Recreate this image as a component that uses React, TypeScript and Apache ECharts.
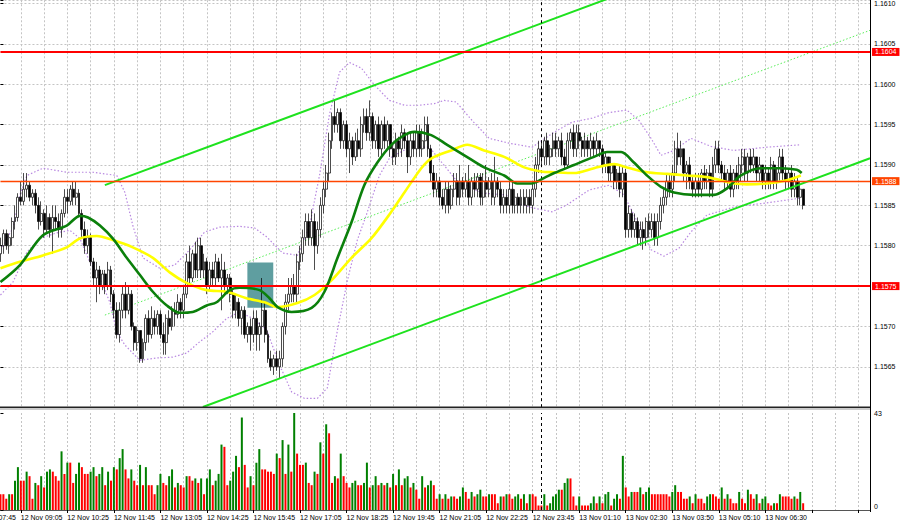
import React, { useEffect, useRef } from "react";
import * as echarts from "echarts";

// ---------- data ----------
const SLOTS = 300; // bar slots across the plot (bars 0..276 used, the rest empty)

// time labels every 16 bars; the first one belongs to bar -9 (left of the plot)
const timeLabels = [
  "12 Nov 07:45", "12 Nov 09:05", "12 Nov 10:25", "12 Nov 11:45", "12 Nov 13:05",
  "12 Nov 14:25", "12 Nov 15:45", "12 Nov 17:05", "12 Nov 18:25", "12 Nov 19:45",
  "12 Nov 21:05", "12 Nov 22:25", "12 Nov 23:45", "13 Nov 01:10", "13 Nov 02:30",
  "13 Nov 03:50", "13 Nov 05:10", "13 Nov 06:30",
];
const firstLabelBar = -9;

// [open, close, low, high]
const candles: number[][] = [
  [1.1579,1.158,1.1578,1.1581],[1.158,1.15815,1.1579,1.1582],[1.15815,1.158,1.15795,1.1582],[1.158,1.1581,1.1579,1.15815],[1.1581,1.1583,1.158,1.15835],
  [1.1583,1.15835,1.1582,1.1585],[1.15835,1.1586,1.1583,1.15865],[1.1586,1.15855,1.1585,1.1588],[1.15855,1.1587,1.1585,1.1589],[1.1587,1.15875,1.1586,1.1589],
  [1.15875,1.1586,1.15855,1.1588],[1.1586,1.15865,1.1585,1.1587],[1.15865,1.1585,1.1584,1.1587],[1.1585,1.1583,1.1582,1.1586],[1.1583,1.1584,1.15825,1.15855],
  [1.1584,1.1582,1.1581,1.15845],[1.1582,1.15835,1.15815,1.1585],[1.15835,1.1582,1.1581,1.1584],[1.1582,1.15835,1.1579,1.1585],[1.15835,1.1583,1.1582,1.1585],
  [1.1583,1.1582,1.1581,1.1584],[1.1582,1.1584,1.1581,1.15845],[1.1584,1.1586,1.15835,1.1587],[1.1586,1.15855,1.1584,1.1587],[1.15855,1.1587,1.1585,1.15875],
  [1.1587,1.1586,1.1585,1.1588],[1.1586,1.15865,1.1585,1.1588],[1.15865,1.1584,1.15835,1.1587],[1.1584,1.1582,1.1581,1.15845],[1.1582,1.158,1.1579,1.1583],
  [1.158,1.1581,1.1579,1.1582],[1.1581,1.1578,1.15775,1.15815],[1.1578,1.1576,1.1575,1.15785],[1.1576,1.1577,1.1573,1.1578],[1.1577,1.1575,1.1574,1.15775],
  [1.1575,1.15765,1.15745,1.1577],[1.15765,1.1575,1.1574,1.1577],[1.1575,1.1577,1.15745,1.1578],[1.1577,1.1574,1.1573,1.15775],[1.1574,1.1572,1.1571,1.15745],
  [1.1572,1.1569,1.15685,1.1573],[1.1569,1.1572,1.1568,1.1573],[1.1572,1.1574,1.1571,1.1575],[1.1574,1.1572,1.1571,1.15755],[1.1572,1.1574,1.15715,1.1575],
  [1.1574,1.157,1.15695,1.15745],[1.157,1.1568,1.1567,1.15705],[1.1568,1.15695,1.1567,1.157],[1.15695,1.1566,1.15655,1.15695],[1.1566,1.1568,1.15655,1.15685],
  [1.1568,1.1571,1.1567,1.15715],[1.1571,1.1569,1.1568,1.1572],[1.1569,1.1571,1.15685,1.15725],[1.1571,1.157,1.1569,1.1572],[1.157,1.15715,1.1569,1.1572],
  [1.15715,1.1569,1.15685,1.1572],[1.1569,1.1568,1.15665,1.15705],[1.1568,1.1571,1.15665,1.15715],[1.1571,1.157,1.1569,1.1572],[1.157,1.1572,1.15695,1.15725],
  [1.1572,1.15715,1.157,1.1573],[1.15715,1.1573,1.1571,1.1574],[1.1573,1.1572,1.1571,1.15735],[1.1572,1.1574,1.1571,1.1575],[1.1574,1.1578,1.15735,1.1579],
  [1.1578,1.1576,1.1575,1.158],[1.1576,1.1579,1.15755,1.15795],[1.1579,1.1577,1.1576,1.15805],[1.1577,1.158,1.1576,1.1581],[1.158,1.1577,1.1576,1.1581],
  [1.1577,1.1578,1.1576,1.1579],[1.1578,1.1575,1.1574,1.15785],[1.1575,1.1577,1.15745,1.1578],[1.1577,1.1576,1.1575,1.1578],[1.1576,1.1578,1.1575,1.1579],
  [1.1578,1.1576,1.15755,1.15785],[1.1576,1.1577,1.1572,1.1579],[1.1577,1.1575,1.1574,1.1578],[1.1575,1.1576,1.1574,1.15765],[1.1576,1.1574,1.1573,1.15765],
  [1.1574,1.1572,1.1571,1.15745],[1.1572,1.1573,1.1571,1.1574],[1.1573,1.1571,1.157,1.15735],[1.1571,1.1572,1.1569,1.15725],[1.1572,1.1569,1.15685,1.15725],
  [1.1569,1.157,1.1568,1.15705],[1.157,1.1569,1.1567,1.1571],[1.1569,1.1571,1.1568,1.1572],[1.1571,1.1569,1.1567,1.1572],[1.1569,1.157,1.1567,1.15705],
  [1.157,1.1572,1.1569,1.1576],[1.1572,1.1569,1.1568,1.1573],[1.1569,1.1566,1.15655,1.15695],[1.1566,1.1565,1.15645,1.1567],[1.1565,1.1566,1.1564,1.15665],
  [1.1566,1.1565,1.15645,1.1567],[1.1565,1.1566,1.15635,1.1567],[1.1566,1.157,1.1565,1.15705],[1.157,1.1573,1.1569,1.1574],[1.1573,1.1574,1.1572,1.1576],
  [1.1574,1.1575,1.1573,1.1576],[1.1575,1.1574,1.1573,1.15765],[1.1574,1.1578,1.1573,1.1579],[1.1578,1.1579,1.1577,1.158],[1.1579,1.1581,1.1578,1.1582],
  [1.1581,1.1583,1.158,1.1584],[1.1583,1.1581,1.158,1.1584],[1.1581,1.1583,1.158,1.15845],[1.1583,1.158,1.1577,1.1584],[1.158,1.1582,1.1579,1.1583],
  [1.1582,1.1585,1.1581,1.1586],[1.1585,1.1587,1.1584,1.1588],[1.1587,1.1589,1.1586,1.159],[1.1589,1.1593,1.1588,1.1594],[1.1593,1.1596,1.1592,1.15965],
  [1.1596,1.1595,1.1594,1.1598],[1.1595,1.15965,1.1594,1.1597],[1.15965,1.1593,1.1592,1.1597],[1.1593,1.1595,1.1592,1.15955],[1.1595,1.1592,1.1591,1.15955],
  [1.1592,1.1593,1.1589,1.1594],[1.1593,1.1591,1.159,1.15935],[1.1591,1.1593,1.15905,1.1594],[1.1593,1.1592,1.1591,1.15945],[1.1592,1.1595,1.1591,1.1596],
  [1.1595,1.1596,1.1594,1.1597],[1.1596,1.1594,1.1593,1.1597],[1.1594,1.1596,1.1593,1.1598],[1.1596,1.1593,1.1592,1.15965],[1.1593,1.1595,1.1592,1.15955],
  [1.1595,1.1592,1.1591,1.1596],[1.1592,1.1595,1.1591,1.15955],[1.1595,1.1593,1.1592,1.1596],[1.1593,1.1595,1.1592,1.15955],[1.1595,1.1592,1.1591,1.1595],
  [1.1592,1.1591,1.159,1.15925],[1.1591,1.1593,1.159,1.1594],[1.1593,1.1592,1.1591,1.15935],[1.1592,1.1594,1.1591,1.1595],[1.1594,1.1593,1.1592,1.15945],
  [1.1593,1.1591,1.1589,1.1594],[1.1591,1.1593,1.159,1.1594],[1.1593,1.1592,1.1591,1.1594],[1.1592,1.1594,1.1591,1.1595],[1.1594,1.1592,1.1591,1.1595],
  [1.1592,1.1593,1.1591,1.15945],[1.1593,1.1595,1.1592,1.1596],[1.1595,1.1592,1.1591,1.1596],[1.1592,1.1589,1.1588,1.15925],[1.1589,1.1587,1.1586,1.159],
  [1.1587,1.1588,1.1586,1.1589],[1.1588,1.1586,1.1585,1.15885],[1.1586,1.1585,1.15845,1.1587],[1.1585,1.1587,1.1584,1.1588],[1.1587,1.1585,1.1584,1.1588],
  [1.1585,1.1587,1.15845,1.15875],[1.1587,1.1588,1.1586,1.1589],[1.1588,1.1586,1.1585,1.1589],[1.1586,1.1588,1.1585,1.159],[1.1588,1.1587,1.1586,1.15885],
  [1.1587,1.1588,1.1586,1.1589],[1.1588,1.1586,1.1585,1.159],[1.1586,1.1588,1.1585,1.15885],[1.1588,1.1587,1.1586,1.1589],[1.1587,1.15885,1.1586,1.1589],
  [1.15885,1.1586,1.1585,1.1589],[1.1586,1.1588,1.1585,1.1589],[1.1588,1.1587,1.1586,1.159],[1.1587,1.1588,1.1586,1.15885],[1.1588,1.1586,1.1585,1.1589],
  [1.1586,1.1588,1.1585,1.1591],[1.1588,1.1587,1.1586,1.15885],[1.1587,1.1585,1.1584,1.1588],[1.1585,1.1586,1.1584,1.1587],[1.1586,1.1585,1.1584,1.1587],
  [1.1585,1.1587,1.1584,1.1588],[1.1587,1.1585,1.1584,1.1588],[1.1585,1.1586,1.1584,1.1587],[1.1586,1.1585,1.1584,1.15865],[1.1585,1.1586,1.1584,1.1587],
  [1.1586,1.1585,1.1584,1.1587],[1.1585,1.1586,1.1584,1.1587],[1.1586,1.1585,1.1584,1.1587],[1.1585,1.1587,1.1584,1.1588],[1.1587,1.159,1.1586,1.1591],
  [1.159,1.1592,1.1589,1.1593],[1.1592,1.1591,1.159,1.1593],[1.1591,1.1593,1.159,1.15935],[1.1593,1.1591,1.159,1.1594],[1.1591,1.1592,1.159,1.15925],
  [1.1592,1.1593,1.1591,1.1594],[1.1593,1.1592,1.1591,1.1594],[1.1592,1.1593,1.1591,1.15935],[1.1593,1.1591,1.159,1.1594],[1.1591,1.159,1.15895,1.1592],
  [1.159,1.1593,1.15895,1.1594],[1.1593,1.1594,1.1592,1.15945],[1.1594,1.1592,1.1591,1.1595],[1.1592,1.1594,1.1591,1.1595],[1.1594,1.1593,1.1592,1.1595],
  [1.1593,1.1592,1.1591,1.15935],[1.1592,1.1593,1.1591,1.1594],[1.1593,1.1592,1.1591,1.15935],[1.1592,1.1593,1.1591,1.1594],[1.1593,1.1592,1.1591,1.15935],
  [1.1592,1.1593,1.1591,1.1594],[1.1593,1.1592,1.1591,1.1593],[1.1592,1.159,1.1589,1.15925],[1.159,1.1591,1.1589,1.15915],[1.1591,1.1589,1.1588,1.1591],
  [1.1589,1.159,1.1588,1.1591],[1.159,1.1588,1.1587,1.159],[1.1588,1.1589,1.1587,1.15895],[1.1589,1.1587,1.1586,1.159],[1.1587,1.1589,1.1586,1.159],
  [1.1589,1.1582,1.1581,1.15895],[1.1582,1.1584,1.1581,1.1585],[1.1584,1.1582,1.1581,1.15845],[1.1582,1.1583,1.1581,1.1584],[1.1583,1.1581,1.158,1.15835],
  [1.1581,1.1582,1.158,1.1583],[1.1582,1.1581,1.15795,1.1583],[1.1581,1.1583,1.158,1.15835],[1.1583,1.1582,1.1581,1.1584],[1.1582,1.1583,1.1581,1.1584],
  [1.1583,1.1581,1.158,1.1584],[1.1581,1.1583,1.158,1.1584],[1.1583,1.1585,1.1582,1.1586],[1.1585,1.1586,1.1584,1.1587],[1.1586,1.1588,1.1585,1.1589],
  [1.1588,1.1587,1.1586,1.1589],[1.1587,1.1589,1.1586,1.159],[1.1589,1.1592,1.1588,1.1593],[1.1592,1.1591,1.159,1.1594],[1.1591,1.1592,1.159,1.1593],
  [1.1592,1.1589,1.1588,1.1592],[1.1589,1.159,1.1587,1.15905],[1.159,1.1588,1.1587,1.1591],[1.1588,1.1587,1.1586,1.15885],[1.1587,1.1588,1.1586,1.1589],
  [1.1588,1.1587,1.1586,1.1589],[1.1587,1.1589,1.1586,1.15895],[1.1589,1.1588,1.1587,1.159],[1.1588,1.1589,1.1587,1.15895],[1.1589,1.1587,1.1586,1.159],
  [1.1587,1.159,1.1586,1.1591],[1.159,1.1592,1.1589,1.1593],[1.1592,1.159,1.1589,1.1593],[1.159,1.1589,1.1588,1.15905],[1.1589,1.1588,1.1587,1.159],
  [1.1588,1.1589,1.1587,1.15895],[1.1589,1.1587,1.1586,1.159],[1.1587,1.1589,1.1586,1.15895],[1.1589,1.1588,1.1587,1.159],[1.1588,1.159,1.1587,1.1591],
  [1.159,1.1591,1.1589,1.1592],[1.1591,1.1589,1.1588,1.1592],[1.1589,1.1591,1.1588,1.15915],[1.1591,1.159,1.1589,1.1592],[1.159,1.1591,1.1589,1.1592],
  [1.1591,1.1589,1.1588,1.1591],[1.1589,1.159,1.1588,1.1591],[1.159,1.1588,1.1587,1.159],[1.1588,1.1589,1.1587,1.159],[1.1589,1.1588,1.1587,1.15895],
  [1.1588,1.159,1.1587,1.1591],[1.159,1.1588,1.1587,1.15905],[1.1588,1.1589,1.1587,1.15895],[1.1589,1.1591,1.1588,1.1592],[1.1591,1.1589,1.1588,1.1592],
  [1.1589,1.1588,1.1587,1.159],[1.1588,1.1589,1.1587,1.15895],[1.1589,1.1587,1.1586,1.159],[1.1587,1.1588,1.1586,1.1589],[1.1588,1.1586,1.1585,1.15885],
  [1.1586,1.1587,1.1585,1.1588],[1.1587,1.1585,1.15845,1.1587],
];

// tick volume per bar
const volumes: number[] = [
  7,7,5,7,7,13,19,13,13,17, 15,5,12,11,15,10,17,18,17,15, 13,26,16,21,21,12,16,21,19,16,
  16,17,19,15,16,19,11,17,13,19, 18,23,27,18,14,18,13,11,20,11, 19,11,11,7,11,16,12,11,15,18,
  10,12,11,10,15,15,13,14,12,14, 7,14,18,11,13,16,29,28,11,13, 17,24,19,41,20,10,15,11,21,27,
  18,18,17,17,16,25,23,31,16,29, 17,43,25,20,20,21,12,11,17,16, 30,25,38,34,12,15,14,25,15,12,
  10,12,13,11,11,12,21,10,11,15, 11,12,11,12,10,16,11,18,11,14, 15,10,12,9,5,15,10,11,13,11,
  5,7,5,7,
  5,6,6,5,6,10,8,5,8,6, 7,9,6,6,7,7,7,3,6,6, 7,7,5,6,7,5,7,3,7,7,
  6,2,2,7,2,3,6,7,9,9, 12,14,14,6,2,6,2,2,2,3, 6,3,6,3,7,8,2,5,7,5,
  24,10,6,8,8,8,10,7,8,10, 7,7,7,7,7,7,6,8,11,8, 8,5,5,6,3,7,5,5,3,6,
  7,7,6,5,10,5,7,5,3,3, 8,5,3,9,7,5,7,3,5,6, 3,2,3,3,7,6,6,6,5,6,
  5,8,3,
];

// moving averages: [bar, price]
const maGreen: number[][] = [
  [0,1.15755],[6.7,1.15776],[14.6,1.15813],[22.8,1.15825],[27.3,1.15837],[30.1,1.15835],[34.2,1.15825],
  [38.6,1.15809],[43.4,1.15785],[47.9,1.15764],[52.4,1.15743],[57.2,1.15726],[61.6,1.15717],[66.1,1.15718],
  [70.9,1.15726],[74.3,1.1573],[78.8,1.15745],[82.2,1.15748],[89.1,1.15745],[92.5,1.15735],[95.3,1.15724],
  [100.1,1.15718],[107,1.15723],[111.4,1.15743],[115.9,1.15785],[120.7,1.15829],[125.1,1.15875],[129.6,1.15903],
  [134.4,1.15925],[138.9,1.15937],[142.3,1.15941],[148.1,1.15937],[153.6,1.15925],[159.5,1.15912],[166.3,1.15897],
  [173.2,1.15887],[177.7,1.15877],[182.5,1.15877],[187,1.15884],[190.4,1.1589],[197.2,1.159],[204.1,1.1591],
  [208.6,1.15916],[213.4,1.15916],[217.8,1.15903],[222.3,1.15887],[227.1,1.15873],[231.6,1.15866],[238.4,1.15863],
  [245.3,1.15863],[249.8,1.15871],[254.6,1.15887],[261.4,1.15896],[268.3,1.15896],[273.8,1.15894],[275.5,1.1589],
];
const maYellow: number[][] = [
  [0,1.15772],[6.7,1.1578],[14.6,1.15788],[22.8,1.15798],[27.3,1.15809],[33.1,1.15812],[38.6,1.15807],
  [45.5,1.15798],[52.4,1.15785],[58.2,1.15767],[64,1.15754],[70.9,1.15745],[77.8,1.15743],[84.6,1.15735],
  [90.8,1.1573],[95.3,1.15724],[102.1,1.15729],[108,1.15739],[113.8,1.15757],[120.7,1.15785],[127.5,1.15809],
  [134.4,1.15842],[138.9,1.15866],[144.7,1.15896],[148.1,1.15908],[155,1.15918],[160.5,1.15925],[166.3,1.15918],
  [173.2,1.1591],[180.1,1.15897],[185.9,1.15892],[190.4,1.15891],[197.2,1.1589],[204.1,1.15896],[211,1.15901],
  [215.4,1.15897],[222.3,1.15891],[229.2,1.15889],[236,1.15887],[242.9,1.15885],[247.7,1.15881],[252.2,1.15877],
  [256.6,1.15876],[263.5,1.15877],[270.4,1.15881],[275.2,1.15887],
];
// Bollinger bands: [bar, price]
const bbUpper: number[][] = [
  [0,1.15795],[4.3,1.15822],[6.7,1.15863],[9.1,1.15887],[14.6,1.15896],[22.8,1.15891],[31.8,1.15891],[40,1.15887],
  [42.8,1.15866],[45.5,1.15825],[49,1.15785],[54.8,1.15772],[59.9,1.15776],[65.1,1.15795],[70.2,1.15817],[75.4,1.15823],
  [82.2,1.15824],[87.4,1.15822],[91.5,1.15811],[97,1.15791],[102.1,1.15788],[106.3,1.15825],[109.7,1.15887],[113.1,1.15962],
  [116.6,1.16015],[120,1.16027],[124.1,1.1602],[128.6,1.15999],[133.7,1.1598],[138.9,1.15974],[144,1.15974],[149.2,1.15976],
  [152.6,1.1598],[156.7,1.15978],[162.2,1.15955],[168,1.15933],[174.9,1.15927],[182.8,1.15922],[189.7,1.15939],[196.5,1.15953],
  [203.4,1.15958],[209.3,1.15965],[215.4,1.15968],[219.6,1.15955],[223.7,1.15933],[227.1,1.15912],[231.6,1.15918],[237.4,1.15933],
  [244.3,1.15923],[252.2,1.15918],[263.5,1.15922],[275.2,1.15925],
];
const bbLower: number[][] = [
  [0,1.15739],[4.3,1.15755],[9.1,1.15792],[13.6,1.15809],[19.4,1.15816],[23.9,1.15819],[27.3,1.15809],[30.7,1.1578],
  [34.2,1.1576],[37.6,1.1573],[40,1.15693],[42.8,1.15677],[47.9,1.15658],[53.7,1.15661],[59.2,1.15662],[64,1.15667],
  [68.5,1.15681],[72.9,1.15693],[77.8,1.1571],[82.2,1.15718],[86.7,1.1571],[91.5,1.15696],[96,1.15652],[100.1,1.15619],
  [104.5,1.15611],[109,1.15611],[112.4,1.15624],[115.9,1.15696],[119.3,1.15757],[122.7,1.15807],[125.8,1.15838],[130.3,1.15887],
  [133.7,1.15908],[140.6,1.15922],[147.5,1.15922],[152,1.15902],[156.7,1.15881],[165.7,1.15865],[173.9,1.15863],[177.3,1.15853],
  [182.8,1.15847],[189.7,1.15842],[194.5,1.1585],[202.4,1.15869],[209.3,1.15875],[214.4,1.15863],[219.6,1.15825],[223.7,1.15795],
  [228.1,1.15787],[233.3,1.15797],[237.4,1.15817],[242.9,1.15838],[252.2,1.15848],[263.5,1.15853],[275.2,1.15859],
];

// drawn objects: [bar, price] end points
const channelUpper = [[35.9, 1.15875], [209.2, 1.161064]];
const channelLower = [[69.6, 1.156002], [299, 1.159084]];
const trendDotted = [[35.9, 1.157141], [299, 1.160668]];
const levels = [1.1604, 1.1588, 1.1575];
const lastPrice = 1.1585;
const signalBox = [[84.9, 1.157793], [93.8, 1.157231]];
const daySeparatorBar = 186;

// ---------- chart ----------
const FONT = "Liberation Sans, Arial, sans-serif";
const levelColors = ["#ff0000", "#ff4500", "#ff0000"];
const levelWidths = [2, 1.3, 2];
const GRID_LEFT = 0.46;
const STEP = 2.9083;
const GRID_RIGHT = 900 - (GRID_LEFT + (SLOTS - 1) * STEP);

export default function App() {
  const ref = useRef<HTMLDivElement>(null);
  useEffect(() => {
    if (!ref.current) return;
    const chart = echarts.init(ref.current, undefined, { renderer: "svg" });
    const slots = Array.from({ length: SLOTS }, (_, i) => String(i));
    const volData = volumes.map((v, i) => ({
      value: v,
      itemStyle: { color: i > 0 && v > volumes[i - 1] ? "#008000" : "#ff0000" },
    }));
    const k0 = -firstLabelBar;
    const isGrid = (idx: number) => (idx + k0) % 8 === 0;
    const isLabel = (idx: number) => (idx + k0) % 16 === 0;
    const gridSplit = { show: true, interval: isGrid, lineStyle: { color: "#c4c4c4", type: [2, 2], width: 1 } };
    const lineBase = (data: number[][], color: string, width: number, type: any = "solid", z = 5) => ({
      type: "line",
      xAxisIndex: 1,
      yAxisIndex: 0,
      data,
      showSymbol: false,
      symbol: "none",
      silent: true,
      z,
      lineStyle: { color, width, type },
    });
    const priceLabel = (bg: string) => ({
      show: true, position: "end", distance: 2, fontSize: 7, fontFamily: FONT,
      color: "#fff", backgroundColor: bg, padding: [1, 3, 0, 3],
      formatter: (p: any) => Number(p.value).toFixed(4),
    });
    const option: any = {
      animation: false,
      backgroundColor: "#ffffff",
      textStyle: { fontFamily: FONT },
      grid: [
        { left: GRID_LEFT, right: GRID_RIGHT, top: 0, height: 407.2 },
        { left: GRID_LEFT, right: GRID_RIGHT, top: 413, height: 97 },
      ],
      xAxis: [
        {
          type: "category", gridIndex: 0, data: slots, boundaryGap: false,
          axisLine: { show: false }, axisTick: { show: false }, axisLabel: { show: false },
          splitLine: gridSplit,
        },
        { type: "value", gridIndex: 0, min: 0, max: SLOTS - 1, show: false },
        {
          type: "category", gridIndex: 1, data: slots, boundaryGap: false,
          axisLine: { show: true, onZero: false, lineStyle: { color: "#555", width: 1 } },
          axisTick: { show: true, interval: isLabel, length: 3, lineStyle: { color: "#000" } },
          axisLabel: {
            interval: isLabel, align: "left", fontSize: 7, color: "#000", margin: 4, fontFamily: FONT,
            formatter: (_v: string, idx: number) => (isLabel(idx) ? timeLabels[(idx + k0) / 16] ?? "" : ""),
          },
          splitLine: gridSplit,
        },
        { type: "value", gridIndex: 1, min: 0, max: SLOTS - 1, show: false },
      ],
      yAxis: [
        {
          type: "value", gridIndex: 0, position: "right", min: 1.156, max: 1.16104, interval: 0.0005,
          axisLine: { show: false },
          axisTick: { show: true, length: 3, lineStyle: { color: "#000" } },
          axisLabel: {
            fontSize: 7, color: "#000", margin: 4, fontFamily: FONT,
            formatter: (v: number) => (v < 1.1562 || v > 1.16102 ? "" : v.toFixed(4)),
          },
          splitLine: { show: true, lineStyle: { color: "#c4c4c4", type: [2, 2] } },
        },
        {
          type: "value", gridIndex: 1, position: "right", min: 0, max: 43, interval: 43,
          axisLine: { show: false },
          axisTick: { show: true, length: 3, lineStyle: { color: "#000" } },
          axisLabel: {
            fontSize: 7, color: "#000", margin: 4, fontFamily: FONT,
            formatter: (v: number) => (v === 0 ? "{b|0}" : String(v)),
            rich: { b: { fontSize: 7, color: "#000", padding: [0, 0, 7, 0], fontFamily: FONT } },
          },
          splitLine: { show: false },
        },
      ],
      series: [
        {
          type: "line", xAxisIndex: 1, yAxisIndex: 0, data: [signalBox[0]], symbol: "none",
          lineStyle: { opacity: 0 }, z: 1, silent: true,
          markArea: {
            silent: true,
            itemStyle: { color: "#5f9ea0", opacity: 1 },
            data: [[{ coord: signalBox[0] }, { coord: signalBox[1] }]],
          },
          markLine: {
            silent: true, symbol: "none", label: { show: false }, precision: 6,
            lineStyle: { color: "#000", type: [3, 3], width: 1 },
            data: [{ xAxis: daySeparatorBar }],
          },
        },
        lineBase(bbUpper, "#b888e0", 1.2, [1.5, 2], 2),
        lineBase(bbLower, "#b888e0", 1.2, [1.5, 2], 2),
        lineBase(trendDotted, "#5aee5a", 1, [1.5, 2], 2),
        {
          type: "candlestick", xAxisIndex: 0, yAxisIndex: 0, data: candles, barWidth: 2.4, z: 3,
          itemStyle: { color: "#ffffff", color0: "#000000", borderColor: "#000000", borderColor0: "#000000", borderWidth: 0.7 },
        },
        lineBase(channelUpper, "#1ee21e", 2, "solid", 4),
        lineBase(channelLower, "#1ee21e", 2, "solid", 4),
        { ...lineBase(maYellow, "#ffff00", 2.6, "solid", 5), smooth: 0.3 },
        { ...lineBase(maGreen, "#0b800b", 2.6, "solid", 6), smooth: 0.3 },
        {
          type: "line", xAxisIndex: 1, yAxisIndex: 0, data: [signalBox[0]], symbol: "none",
          lineStyle: { opacity: 0 }, z: 8, silent: true,
          markLine: {
            silent: true, symbol: "none", z: 8, precision: 6,
            data: [
              ...levels.map((v, i) => ({
                yAxis: v,
                lineStyle: { color: levelColors[i], width: levelWidths[i], type: "solid", opacity: 1 },
                label: priceLabel(levelColors[i]),
              })),
              { yAxis: lastPrice, lineStyle: { color: "#000", opacity: 0, width: 0 }, label: priceLabel("#000") },
            ],
          },
        },
        { type: "bar", xAxisIndex: 2, yAxisIndex: 1, data: volData, barWidth: 2, silent: true },
        {
          type: "line", xAxisIndex: 3, yAxisIndex: 1, data: [[0, 0]], symbol: "none",
          lineStyle: { opacity: 0 }, silent: true,
          markLine: {
            silent: true, symbol: "none", label: { show: false }, precision: 6,
            lineStyle: { color: "#000", type: [3, 3], width: 1 },
            data: [{ xAxis: daySeparatorBar }],
          },
        },
      ],
      graphic: [
        { type: "rect", shape: { x: 0, y: 406.5, width: 870, height: 1.5 }, style: { fill: "#222" }, z: 20 },
        { type: "rect", shape: { x: 0, y: 408.5, width: 870, height: 1 }, style: { fill: "#999" }, z: 20 },
        { type: "line", shape: { x1: 870.5, y1: 0, x2: 870.5, y2: 512 }, style: { stroke: "#000", lineWidth: 1 }, z: 20 },
        {
          type: "text", x: GRID_LEFT + firstLabelBar * STEP, y: 514,
          style: { text: timeLabels[0], fontSize: 7, fontFamily: FONT, fill: "#000" }, z: 20,
        },
      ],
    };
    chart.setOption(option);
    return () => chart.dispose();
  }, []);
  return <div ref={ref} style={{ position: "fixed", left: 0, top: 0, width: 900, height: 527 }} />;
}
